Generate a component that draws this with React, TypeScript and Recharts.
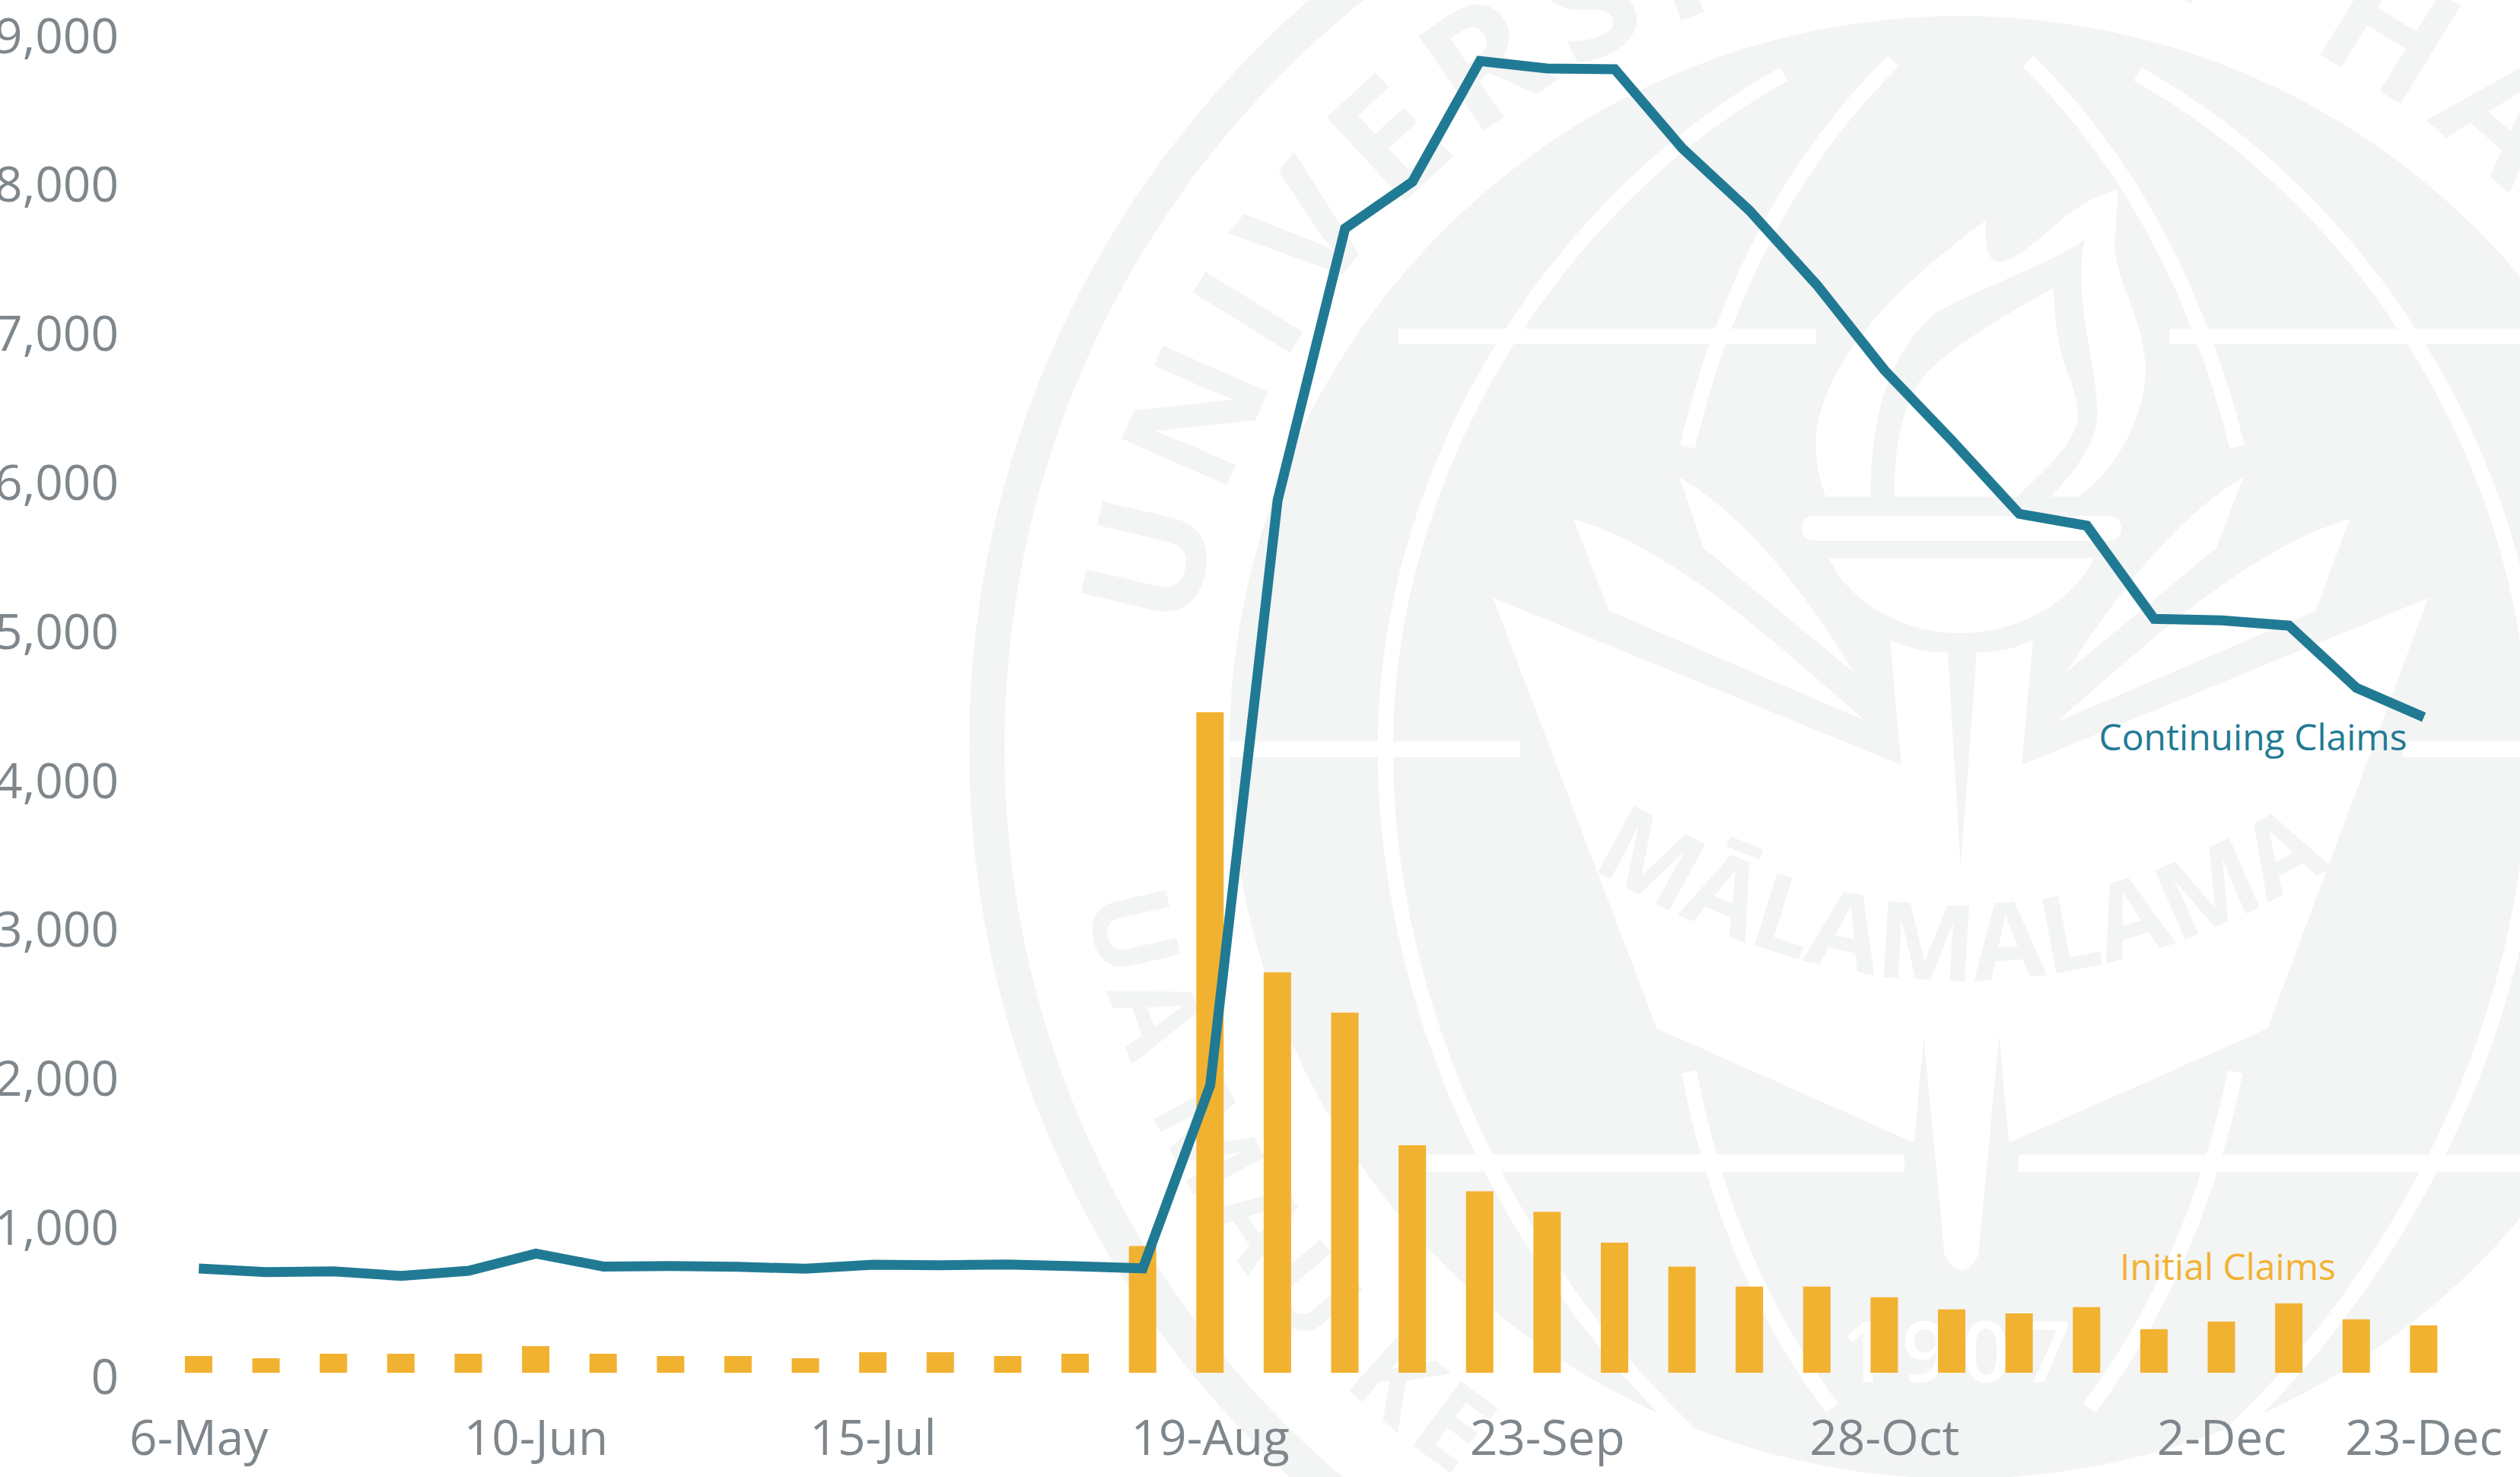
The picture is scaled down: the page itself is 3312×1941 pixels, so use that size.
import React from "react";
import { ComposedChart, Bar, Line, XAxis, YAxis, Customized } from "recharts";

const weeks = ["6-May","13-May","20-May","27-May","3-Jun","10-Jun","17-Jun","24-Jun","1-Jul","8-Jul","15-Jul","22-Jul","29-Jul","5-Aug","12-Aug","19-Aug","26-Aug","2-Sep","9-Sep","16-Sep","23-Sep","30-Sep","7-Oct","14-Oct","21-Oct","28-Oct","4-Nov","11-Nov","18-Nov","25-Nov","2-Dec","9-Dec","16-Dec","23-Dec"];
const initialClaims = [112,97,128,128,128,179,128,112,112,97,138,138,112,128,850,4433,2688,2417,1527,1218,1080,874,712,578,578,507,425,399,441,293,344,466,359,318];
const continuingClaims = [700,676,680,650,684,800,713,717,711,698,725,722,727,715,701,1930,5858,7681,7995,8805,8755,8750,8220,7800,7300,6730,6257,5765,5686,5060,5050,5015,4597,4400];
const xTicks = ["6-May","10-Jun","15-Jul","19-Aug","23-Sep","28-Oct","2-Dec","23-Dec"];
const yTicks = [0,1000,2000,3000,4000,5000,6000,7000,8000,9000];

const rows = weeks.map((week, i) => ({ week, initial: initialClaims[i], continuing: continuingClaims[i] }));

const FONT = "'Open Sans', sans-serif";
const GREY = "#f3f4f4";
const TEAL = "#217a94";
const GOLD = "#f2b231";
const TICK = "#7f878c";

function Watermark() {
  const white = { stroke: "#fff", strokeWidth: 9.5, fill: "none" };
  return (
    <svg viewBox="0 0 1568 919" width={3312} height={1941} style={{ position: "absolute", left: 0, top: 0 }}>
      <defs>
        <clipPath id="disc"><circle cx={1220} cy={465} r={455} /></clipPath>
        <path id="topArc" d="M742,394 A483,483 0 0 1 1698,394" />
        <path id="botArc" d="M676,559 A552,552 0 0 0 1300,1011" />
        <path id="bookArc" d="M960,520 Q1220,700 1480,520" />
      </defs>
      <circle cx={1220} cy={465} r={606} fill="none" stroke={GREY} strokeWidth={22} />
      <circle cx={1220} cy={465} r={455} fill={GREY} />
      <text fontFamily={FONT} fontWeight={700} fontSize={100} fill={GREY} letterSpacing={10}>
        <textPath href="#topArc">UNIVERSITY OF HAWAIʻI</textPath>
      </text>
      <text fontFamily={FONT} fontWeight={700} fontSize={70} fill={GREY} letterSpacing={6}>
        <textPath href="#botArc">UA MAU KE</textPath>
      </text>
      <g clipPath="url(#disc)">
        <path d="M1110,46 C960,130 862,300 862,465 C862,640 950,800 1060,900" {...white} />
        <path d="M1330,46 C1480,130 1578,300 1578,465 C1578,640 1490,800 1380,900" {...white} />
        <path d="M1178,38 Q1085,130 1050,278" {...white} />
        <path d="M1262,38 Q1355,130 1392,278" {...white} />
        <path d="M1051,667 Q1075,790 1140,876" {...white} />
        <path d="M1391,667 Q1365,790 1300,876" {...white} />
        <rect x={870} y={204.5} width={260} height={9.5} fill="#fff" />
        <rect x={1350} y={204.5} width={320} height={9.5} fill="#fff" />
        <rect x={760} y={461.5} width={186} height={9.5} fill="#fff" />
        <rect x={1495} y={461.5} width={200} height={9.5} fill="#fff" />
        <rect x={888} y={718.5} width={297} height={10.5} fill="#fff" />
        <rect x={1256} y={718.5} width={400} height={10.5} fill="#fff" />
      </g>
      <path fill="#fff" d="M1236,137 C1190,170 1135,220 1130,271 C1129,285 1132,298 1136,309 L1164,309 C1164,270 1170,225 1204,195 C1240,175 1275,165 1297,149 C1290,190 1305,225 1305,258 C1305,275 1290,295 1276,309 L1293,309 C1315,295 1335,260 1335,230 C1335,200 1314,170 1316,150 L1318,118 C1285,125 1265,160 1244,163 C1236,163 1235,150 1236,137 Z" />
      <path fill="#fff" d="M1278,179 C1278,200 1280,208 1284,225 C1290,240 1293,250 1293,258 C1293,275 1270,295 1255,309 L1179,309 C1179,290 1179,270 1190,245 C1200,222 1250,195 1278,179 Z" />
      <rect x={1121} y={321} width={199} height={15.5} rx={7.5} fill="#fff" />
      <path fill="#fff" d="M1138,347 L1303,347 C1290,375 1255,394 1220,394 C1185,394 1150,375 1138,347 Z" />
      <path fill="#fff" d="M1045,297 C1085,320 1125,370 1153,418 L1060,341 Z" />
      <path fill="#fff" d="M1396,297 C1356,320 1316,370 1286,418 L1379,341 Z" />
      <path fill="#fff" d="M979,323 C1040,340 1105,400 1160,448 L1001,380 Z" />
      <path fill="#fff" d="M1462,323 C1401,340 1336,400 1280,449 L1441,380 Z" />
      <path fill="#fff" d="M929,372 L1183,476 L1176,398 Q1192,406 1212,406 L1220,540 L1230,406 Q1250,406 1265,398 L1258,476 L1511,372 L1411,640 L1250,711 L1244,644 L1231,781 Q1221,800 1210,781 L1197,645 L1191,711 L1031,640 Z" />
      <text fontFamily={FONT} fontWeight={700} fontSize={66} fill={GREY} textAnchor="middle">
        <textPath href="#bookArc" startOffset="50%">MĀLAMALAMA</textPath>
      </text>
      <text x={1221} y={860} fontFamily={FONT} fontWeight={600} fontSize={52} fill="#fff" textAnchor="middle" letterSpacing={8}>1907</text>
    </svg>
  );
}

function SeriesLabels() {
  return (
    <g fontFamily={FONT} fontSize={48}>
      <text x={2961} y={986} fill={TEAL} textAnchor="middle">Continuing Claims</text>
      <text x={2928} y={1682} fill={GOLD} textAnchor="middle">Initial Claims</text>
    </g>
  );
}

export default function App() {
  const tick = { fontFamily: FONT, fontSize: 64, fill: TICK, fontWeight: 400 };
  return (
    <div style={{ position: "absolute", left: 0, top: 0, width: 3312, height: 1941, overflow: "hidden", background: "#fff" }}>
      <Watermark />
      <div style={{ position: "absolute", left: 0, top: 0 }}>
        <ComposedChart width={3312} height={1941} data={rows} margin={{ top: 42, right: 82, bottom: 0, left: 0 }} barSize={36}>
          <XAxis dataKey="week" ticks={xTicks} interval={0} height={137} axisLine={false} tickLine={false} tickSize={0} tickMargin={63} tick={tick} padding={{ left: 0, right: 0 }} />
          <YAxis domain={[0, 9000]} ticks={yTicks} width={217} axisLine={false} tickLine={false} tickSize={0} tickMargin={61} tick={{ ...tick, dy: 5 }} tickFormatter={(v: number) => v.toLocaleString("en-US")} />
          <Bar dataKey="initial" fill={GOLD} isAnimationActive={false} />
          <Line dataKey="continuing" stroke={TEAL} strokeWidth={13} strokeLinejoin="miter" strokeLinecap="butt" dot={false} activeDot={false} type="linear" isAnimationActive={false} />
          <Customized component={SeriesLabels} />
        </ComposedChart>
      </div>
    </div>
  );
}
